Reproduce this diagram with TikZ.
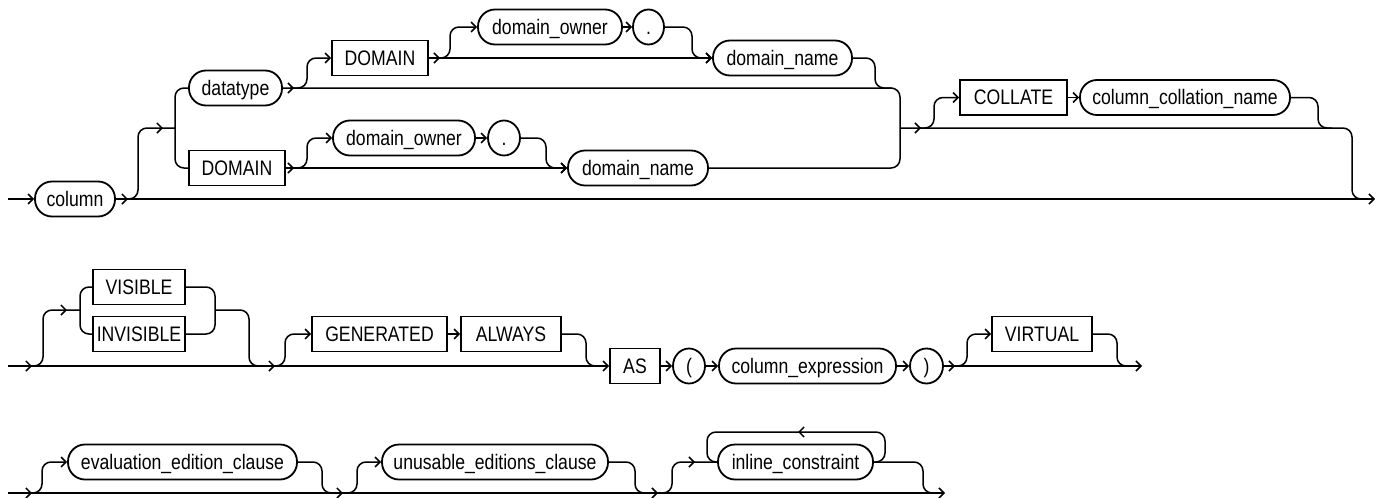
\documentclass[tikz,border=0pt]{standalone}
\usepackage{fontspec}
\setmainfont{Liberation Sans}[FakeStretch=0.84]
\usetikzlibrary{arrows.meta,shapes.geometric}
\tikzset{
  kw/.style={draw, line width=1.8pt, rectangle, minimum height=35pt, inner sep=0pt, text height=15pt, text depth=1pt, font=\fontsize{21}{23}\selectfont},
  nt/.style={kw, rounded corners=17pt},
  sym/.style={draw, line width=1.8pt, ellipse, minimum height=35pt, inner sep=0pt, text height=15pt, text depth=1pt, font=\fontsize{21}{23}\selectfont},
  rail/.style={line width=1.5pt, rounded corners=9pt},
  atip/.style={-{Straight Barb[length=5pt,width=10pt]}},
}
\newcommand\railtip[2]{\draw[rail,atip] (#1-2,#2) -- (#1,#2);}
\newcommand\railtipL[2]{\draw[rail,atip] (#1+2,#2) -- (#1,#2);}
\begin{document}
\begin{tikzpicture}[x=1pt,y=-1pt]
\useasboundingbox (0,0) rectangle (1382,498);
% ---------------- Row 1
\coordinate (s1) at (8,199);
\coordinate (e1) at (1375,199);
\node[nt, minimum width=80pt] (column) at (75,199) {column};
\node[nt, minimum width=93pt] (datatype) at (235.5,88) {datatype};
\node[kw, minimum width=96pt] (domB) at (237,168) {DOMAIN};
\node[kw, minimum width=96pt] (domA) at (380,58) {DOMAIN};
\node[nt, minimum width=144pt] (ownA) at (550,27) {domain\_owner};
\node[sym, minimum width=31pt] (dotA) at (648.5,27) {.};
\node[nt, minimum width=139pt] (nameA) at (782.5,58) {domain\_name};
\node[nt, minimum width=142pt] (ownB) at (404,138) {domain\_owner};
\node[sym, minimum width=32pt] (dotB) at (504,138) {.};
\node[nt, minimum width=140pt] (nameB) at (638,168) {domain\_name};
\node[kw, minimum width=107pt] (collate) at (1013.5,97.5) {COLLATE};
\node[nt, minimum width=210pt] (collname) at (1185,97.5) {column\_collation\_name};

\draw[rail, atip] (s1) -- (column.west);
\draw[rail, atip] (column.east) -- (e1);
\railtip{128}{199}
\draw[rail] (118,199) -- (138,199) -- (138,128) -- (175,128);
\railtip{163}{128}
\draw[rail] (datatype.west) -- (175,88) -- (175,168) -- (domB.west);
\draw[rail] (datatype.east) -- (900,88) -- (900,168) -- (nameB.east);
\railtip{294}{88}
\draw[rail, atip] (290,88) -- (307,88) -- (307,58) -- (domA.west);
\draw[rail, atip] (domA.east) -- (nameA.west);
\railtip{440}{58}
\draw[rail, atip] (436,58) -- (450,58) -- (450,27) -- (ownA.west);
\draw[rail, atip] (ownA.east) -- (dotA.west);
\draw[rail, atip] (dotA.east) -- (692,27) -- (692,58) -- (nameA.west);
\draw[rail] (nameA.east) -- (875,58) -- (875,88) -- (892,88);
\draw[rail, atip] (domB.east) -- (nameB.west);
\railtip{294}{168}
\draw[rail, atip] (290,168) -- (307,168) -- (307,138) -- (ownB.west);
\draw[rail, atip] (ownB.east) -- (dotB.west);
\draw[rail, atip] (dotB.east) -- (546,138) -- (546,168) -- (nameB.west);
\draw[rail] (900,128) -- (1352,128) -- (1352,199) -- (1366,199);
\railtip{921}{128}
\draw[rail, atip] (918,128) -- (934,128) -- (934,97.5) -- (collate.west);
\draw[rail, atip] (collate.east) -- (collname.west);
\draw[rail] (collname.east) -- (1318,97.5) -- (1318,128) -- (1332,128);

% ---------------- Row 2
\coordinate (s2) at (8,366);
\coordinate (e2) at (1142,366);
\node[kw, minimum width=92pt] (visible) at (139,287) {VISIBLE};
\node[kw, minimum width=92pt] (invisible) at (139,334) {INVISIBLE};
\node[kw, minimum width=135pt] (generated) at (379.5,334) {GENERATED};
\node[kw, minimum width=100pt] (always) at (511,334) {ALWAYS};
\node[kw, minimum width=50pt] (as) at (635,366) {AS};
\node[sym, minimum width=32pt] (lpar) at (689,366) {(};
\node[nt, minimum width=177pt] (colexpr) at (807.5,366) {column\_expression};
\node[sym, minimum width=33pt] (rpar) at (926.5,366) {)};
\node[kw, minimum width=100pt] (virtual) at (1042,334) {VIRTUAL};

\draw[rail, atip] (s2) -- (as.west);
\railtip{32}{366}
\railtip{275}{366}
\draw[rail] (24,366) -- (43,366) -- (43,310) -- (80,310);
\railtip{67}{310}
\draw[rail] (visible.west) -- (80,287) -- (80,334) -- (invisible.west);
\draw[rail] (visible.east) -- (215,287) -- (215,334) -- (invisible.east);
\draw[rail] (215,310) -- (249,310) -- (249,366) -- (262,366);
\draw[rail, atip] (270,366) -- (285,366) -- (285,334) -- (generated.west);
\draw[rail, atip] (generated.east) -- (always.west);
\draw[rail] (always.east) -- (586,334) -- (586,366) -- (600,366);
\draw[rail, atip] (as.east) -- (lpar.west);
\draw[rail, atip] (lpar.east) -- (colexpr.west);
\draw[rail, atip] (colexpr.east) -- (rpar.west);
\draw[rail, atip] (rpar.east) -- (e2);
\railtip{955}{366}
\draw[rail, atip] (952,366) -- (967,366) -- (967,334) -- (virtual.west);
\draw[rail] (virtual.east) -- (1117,334) -- (1117,366) -- (1131,366);

% ---------------- Row 3
\coordinate (s3) at (8,493);
\coordinate (e3) at (945,493);
\node[nt, minimum width=229pt] (eval) at (182.5,462) {evaluation\_edition\_clause};
\node[nt, minimum width=226pt] (unusable) at (495,462) {unusable\_editions\_clause};
\node[nt, minimum width=155pt] (inline) at (795.5,462) {inline\_constraint};

\draw[rail, atip] (s3) -- (e3);
\railtip{32}{493}
\railtip{343}{493}
\railtip{658}{493}
\draw[rail, atip] (24,493) -- (42,493) -- (42,462) -- (eval.west);
\draw[rail] (eval.east) -- (322,462) -- (322,493) -- (335,493);
\draw[rail, atip] (340,493) -- (357,493) -- (357,462) -- (unusable.west);
\draw[rail] (unusable.east) -- (635,462) -- (635,493) -- (648,493);
\draw[rail] (655,493) -- (672,493) -- (672,462) -- (inline.west);
\railtip{695}{462}
\draw[rail] (inline.east) -- (885,462) -- (885,432) -- (707,432) -- (707,462) -- (inline.west);
\railtipL{798}{432}
\draw[rail] (inline.east) -- (923,462) -- (923,493) -- (936,493);
\end{tikzpicture}
\end{document}
